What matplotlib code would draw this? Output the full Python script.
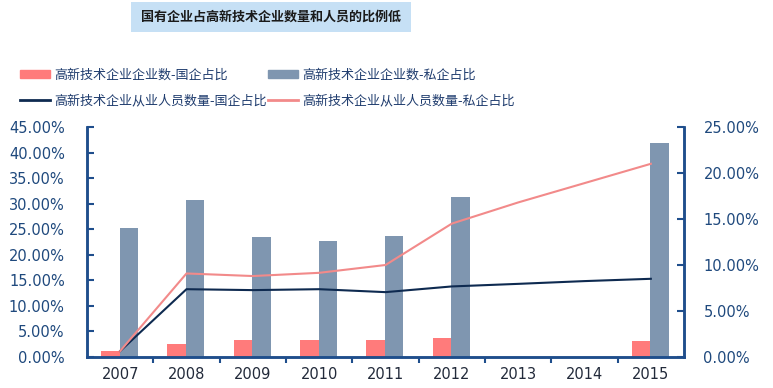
import numpy as np
import matplotlib
matplotlib.use("Agg")
import matplotlib.pyplot as plt
from matplotlib.patches import Rectangle, Patch
from matplotlib.lines import Line2D
from matplotlib.ticker import FuncFormatter

plt.rcParams['font.family'] = ['Noto Sans CJK SC', 'DejaVu Sans']

# 数据
years = ['2007', '2008', '2009', '2010', '2011', '2012', '2013', '2014', '2015']
bar_state = [1.2, 2.5, 3.4, 3.4, 3.3, 3.7, np.nan, np.nan, 3.1]          # 企业数-国企占比 (左轴)
bar_private = [25.2, 30.7, 23.5, 22.7, 23.6, 31.3, np.nan, np.nan, 41.9]  # 企业数-私企占比 (左轴)
line_state = [0.65, 7.37, 7.27, 7.37, 7.05, 7.67, 7.95, 8.25, 8.5]       # 从业人员-国企占比 (右轴)
line_private = [0.65, 9.08, 8.8, 9.15, 10.0, 14.5, 16.8, 18.9, 21.0]     # 从业人员-私企占比 (右轴)

labels = ['高新技术企业企业数-国企占比', '高新技术企业企业数-私企占比',
          '高新技术企业从业人员数量-国企占比', '高新技术企业从业人员数量-私企占比']

c_pink_bar = '#FF7B7B'
c_grey_bar = '#7F96B0'
c_dark = '#0E2A50'
c_pink_line = '#F28A8A'
c_axis = '#1F4E8C'
c_tick = '#1F497D'

fig = plt.figure(figsize=(7.73, 3.88), dpi=100)
ax = fig.add_axes([87 / 773, 31 / 388, (684 - 87) / 773, 230 / 388])
ax2 = ax.twinx()

x = np.arange(len(years))
w = 0.28
ax.bar(x - 0.15, bar_state, width=w, color=c_pink_bar, zorder=2)
ax.bar(x + 0.13, bar_private, width=w, color=c_grey_bar, zorder=2)
ax2.plot(x, line_state, color=c_dark, lw=1.5)
ax2.plot(x, line_private, color=c_pink_line, lw=1.5)

ax.set_xlim(-0.5, len(years) - 0.5)
ax.set_ylim(0, 45)
ax2.set_ylim(0, 25)
ax.set_yticks(np.arange(0, 46, 5))
ax2.set_yticks(np.arange(0, 26, 5))
pct = FuncFormatter(lambda v, p: f"{v:.2f}%")
ax.yaxis.set_major_formatter(pct)
ax2.yaxis.set_major_formatter(pct)

ax.set_xticks(x)
ax.set_xticklabels(years)
ax.set_xticks(np.arange(0.5, len(years) - 0.5, 1), minor=True)
ax.tick_params(axis='x', which='major', length=0, pad=7, labelsize=10.5,
               labelcolor='#222a3a')
ax.tick_params(axis='x', which='minor', length=4, width=1.5, color=c_axis, direction='out')
ax.tick_params(axis='y', direction='in', length=5, width=1.5, color=c_axis,
               labelsize=10.5, labelcolor=c_tick, pad=16)
ax2.tick_params(axis='y', direction='in', length=5, width=1.5, color=c_axis,
                labelsize=10.5, labelcolor=c_tick, pad=14)
for t in ax.get_xticklabels() + ax.get_yticklabels() + ax2.get_yticklabels():
    t.set_family('DejaVu Sans')

for a in (ax, ax2):
    a.spines['top'].set_visible(False)
    for s in ('left', 'right', 'bottom'):
        a.spines[s].set_color(c_axis)
        a.spines[s].set_linewidth(1.8)

# 图例
handles = [Patch(color=c_pink_bar), Line2D([], [], color=c_dark, lw=2),
           Patch(color=c_grey_bar), Line2D([], [], color=c_pink_line, lw=2)]
leg_labels = [labels[0], labels[2], labels[1], labels[3]]
leg = fig.legend(handles, leg_labels, ncol=2, loc='upper left',
                 bbox_to_anchor=(8 / 773, 1 - 57 / 388), frameon=False,
                 fontsize=9.4, handlelength=2.3, handleheight=0.5,
                 handletextpad=0.35, columnspacing=0.05, labelspacing=0.95)
for t in leg.get_texts():
    t.set_color('#1F3C6E')

# 标题
fig.patches.append(Rectangle((131 / 773, 1 - 32 / 388), 280 / 773, 30 / 388,
                             transform=fig.transFigure, facecolor='#C6E0F5',
                             edgecolor='none', zorder=0))
fig.text(271 / 773, 1 - 17 / 388, '国有企业占高新技术企业数量和人员的比例低',
         ha='center', va='center', fontsize=9.4, fontweight='bold', color='#1a1a1a')

fig.savefig('out.png', dpi=100)
